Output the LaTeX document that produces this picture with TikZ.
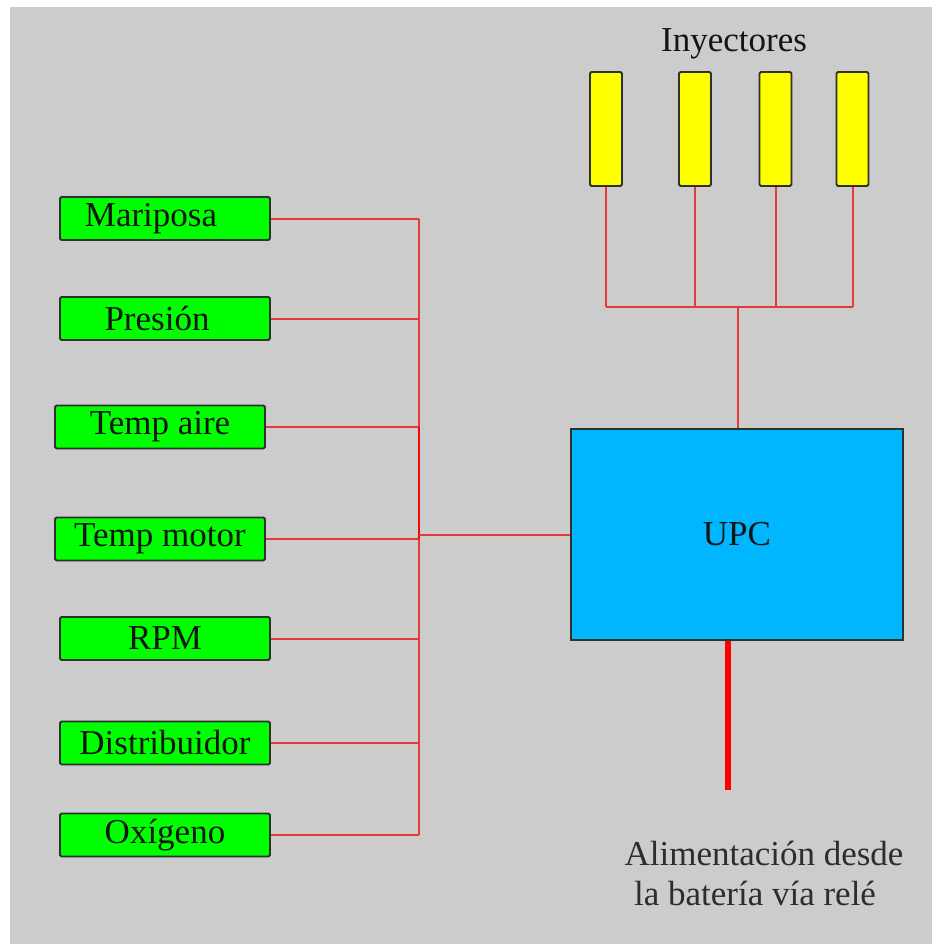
\documentclass[tikz,border=0pt]{standalone}
\usepackage{fontspec}
\setmainfont{Liberation Serif}
\definecolor{bg}{RGB}{204,204,204}
\definecolor{sgreen}{RGB}{0,255,0}
\definecolor{iyellow}{RGB}{255,255,0}
\definecolor{ublue}{RGB}{0,182,255}
\definecolor{edge}{RGB}{45,50,45}
\definecolor{wirered}{RGB}{228,58,58}
\definecolor{powred}{RGB}{255,0,0}
\definecolor{txt}{RGB}{20,20,20}
\definecolor{txtg}{RGB}{45,45,45}
\begin{document}
\begin{tikzpicture}[x=1pt,y=-1pt,
  lbl/.style={font=\fontsize{35}{40}\selectfont, text=txt, inner sep=0pt},
  sensor/.style={lbl, draw=edge, line width=1.8pt, fill=sgreen, rounded corners=1.5pt,
    minimum width=210pt, minimum height=43pt},
  injector/.style={draw=edge, line width=1.8pt, fill=iyellow, rounded corners=1.5pt,
    minimum width=32pt, minimum height=114pt, inner sep=0pt},
  cpu/.style={lbl, draw=edge, line width=1.5pt, fill=ublue,
    minimum width=332pt, minimum height=211pt},
  wire/.style={draw=wirered, line width=2pt},
  busthick/.style={draw=powred, line width=2.6pt},
  power/.style={draw=powred, line width=6pt}]
\useasboundingbox (0,0) rectangle (932,944);
\fill[bg] (10,7) rectangle (932,944);

% sensors
\node[sensor] (mar) at (165,218.5) {\hspace*{-28pt}Mariposa};
\node[sensor] (pre) at (165,318.5) {\hspace*{-16pt}Presión};
\node[sensor] (tai) at (160,427) {Temp aire};
\node[sensor] (tmo) at (160,539) {Temp motor};
\node[sensor] (rpm) at (165,638.5) {RPM};
\node[sensor] (dis) at (165,743) {Distribuidor};
\node[sensor] (oxi) at (165,835) {Oxígeno};

% injectors
\node[lbl] (iny) at (734,44) {Inyectores};
\node[injector] (i1) at (606,129) {};
\node[injector] (i2) at (695,129) {};
\node[injector] (i3) at (775.5,129) {};
\node[injector] (i4) at (852.5,129) {};

% control unit
\node[cpu] (upc) at (737,534.5) {UPC};

% power label
\node[lbl, text=txtg] (al1) at (764,853) {Alimentación desde};
\node[lbl, text=txtg] (al2) at (755,893) {la batería vía relé};

% coordinates
\coordinate (bx) at (419,0);
\coordinate (j) at (419,535);
\coordinate (ib) at (738,307);
\coordinate (pw) at (728,790);

% sensor wires
\foreach \s in {mar,pre,tai,tmo,rpm,dis,oxi}
  \draw[wire] (\s.east) -- (\s.east -| bx);
\draw[wire] (mar.east -| bx) -- (oxi.east -| bx);
\draw[busthick] (tai.east -| bx) -- (tmo.east -| bx);
\draw[wire] (j) -- (j -| upc.west);

% injector wires
\foreach \i in {i1,i2,i3,i4}
  \draw[wire] (\i.south) -- (\i.south |- ib);
\draw[wire] (i1.south |- ib) -- (i4.south |- ib);
\draw[wire] (ib) -- (ib |- upc.north);

% power
\draw[power] (pw |- upc.south) -- (pw);
\end{tikzpicture}
\end{document}
